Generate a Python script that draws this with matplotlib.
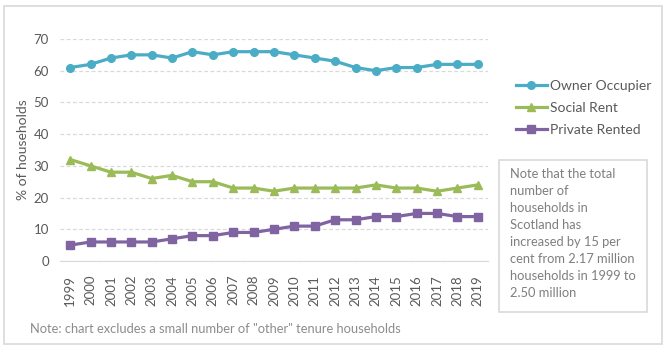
import matplotlib
matplotlib.use("Agg")
import matplotlib.pyplot as plt
from matplotlib.patches import Rectangle

years = list(range(1999, 2020))
owner = [61, 62, 64, 65, 65, 64, 66, 65, 66, 66, 66, 65, 64, 63, 61, 60, 61, 61, 62, 62, 62]
social = [32, 30, 28, 28, 26, 27, 25, 25, 23, 23, 22, 23, 23, 23, 23, 24, 23, 23, 22, 23, 24]
private = [5, 6, 6, 6, 6, 7, 8, 8, 9, 9, 10, 11, 11, 13, 13, 14, 14, 15, 15, 14, 14]
series_names = ["Owner Occupier", "Social Rent", "Private Rented"]
yticks = [0, 10, 20, 30, 40, 50, 60, 70]
note_text = ("Note that the total\nnumber of\nhouseholds in\nScotland has\n"
             "increased by 15 per\ncent from 2.17 million\nhouseholds in 1999 to\n2.50 million")
foot_text = 'Note: chart excludes a small number of "other" tenure households'

plt.rcParams['font.family'] = ['Lato', 'DejaVu Sans']
W, H = 666, 350
fig = plt.figure(figsize=(W / 100, H / 100), dpi=100)
fig.patch.set_facecolor('white')

# outer border
fig.patches.append(Rectangle((4 / W, 6 / H), 658 / W, 338 / H, transform=fig.transFigure,
                             fill=False, edgecolor='#D9D9D9', linewidth=1.2))

ax = fig.add_axes([60 / W, 1 - 261 / H, 428 / W, 222 / H])
txt = '#595959'
colors = ['#4BACC6', '#9BBB59', '#8064A2']
markers = ['o', '^', 's']
handles = []
for vals, c, m, name in zip([owner, social, private], colors, markers, series_names):
    h, = ax.plot(years, vals, color=c, marker=m, markersize=5.5, linewidth=2.3,
                 label=name, zorder=3, clip_on=False)
    handles.append(h)

ax.set_xlim(1998.5, 2019.5)
ax.set_ylim(0, 70)
ax.set_yticks(yticks)
ax.set_xticks(years)
ax.set_xticklabels([str(y) for y in years], rotation=90, fontsize=9.5, color=txt)
ax.tick_params(axis='y', labelsize=9.5, labelcolor=txt, length=0, pad=8)
ax.tick_params(axis='x', length=0, pad=10)
for s in ['top', 'right', 'left']:
    ax.spines[s].set_visible(False)
ax.spines['bottom'].set_color('#D9D9D9')
ax.yaxis.grid(True, linestyle=(0, (3, 2)), color='#D9D9D9', linewidth=0.9)
ax.set_axisbelow(True)
ax.set_ylabel('% of households', fontsize=10, color=txt, labelpad=3)

fig.legend(handles=handles, loc='center left', bbox_to_anchor=(503 / W, 1 - 108 / H),
           frameon=False, fontsize=10, handlelength=2.3, handletextpad=0.2,
           labelspacing=0.7, labelcolor=txt)

# note box
fig.patches.append(Rectangle((499 / W, 1 - 312 / H), 148 / W, 152 / H, transform=fig.transFigure,
                             fill=False, edgecolor='#D9D9D9', linewidth=1.2))
fig.text(510 / W, 1 - 168 / H, note_text, ha='left', va='top', fontsize=9.3,
         color='#7F7F7F', linespacing=1.5)

fig.text(30 / W, 1 - 329 / H, foot_text, ha='left', va='center', fontsize=9.3, color='#8C8C8C')

fig.savefig('out.png', dpi=100, facecolor='white')
